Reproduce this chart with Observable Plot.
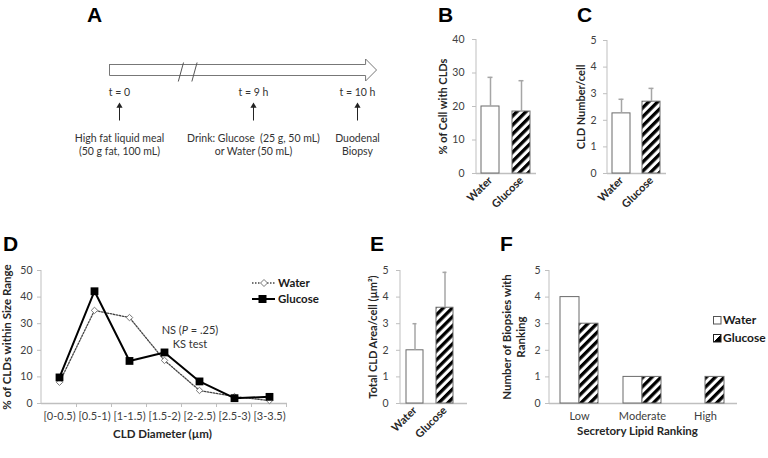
<!DOCTYPE html>
<html><head><meta charset="utf-8">
<script src="https://cdn.jsdelivr.net/npm/d3@7"></script>
<script src="https://cdn.jsdelivr.net/npm/@observablehq/plot@0.6"></script>
<style>
body{margin:0;background:#fff;}
#fig{position:relative;width:768px;height:458px;overflow:hidden;background:#fff;font-family:Lato,"Open Sans",sans-serif;color:#262626;}
.letter{font-family:"Liberation Sans",Arial,sans-serif;font-weight:bold;font-size:21px;line-height:1;color:#000;}
.leg{font-weight:bold;color:#1a1a1a;white-space:nowrap;}
</style></head><body>
<svg width="0" height="0" style="position:absolute">
 <defs>
  <pattern id="hatch" patternUnits="userSpaceOnUse" width="6.4" height="6.4" patternTransform="rotate(45)">
   <rect width="6.4" height="6.4" fill="#fff"/><rect width="3.3" height="6.4" fill="#000"/>
  </pattern>
  <linearGradient id="halfblack" x1="0" y1="0" x2="1" y2="1"><stop offset="0.5" stop-color="#fff"/><stop offset="0.5" stop-color="#000"/></linearGradient>
 </defs>
</svg>
<div id="fig"></div>
<script>
// ---------- data ----------
const groups = ["Water", "Glucose"];
const cellPct = [20, 18.5];
const cellPctErr = [8.7, 9.2];
const cldNumber = [2.26, 2.7];
const cldNumberErr = [0.53, 0.5];
const cldArea = [2.0, 3.6];
const cldAreaErr = [1.0, 1.33];
const diameterBins = ["[0-0.5)", "[0.5-1)", "[1-1.5)", "[1.5-2)", "[2-2.5)", "[2.5-3)", "[3-3.5)"];
const waterDist = [8, 35, 32.3, 16.2, 4.9, 2.6, 1.1];
const glucoseDist = [9.8, 42.2, 16, 19.2, 8.3, 2, 2.5];
const rankings = ["Low", "Moderate", "High"];
const waterRank = [4, 1, 0];
const glucoseRank = [3, 1, 1];
const pctTicks = [0, 10, 20, 30, 40];
const fiveTicks = [0, 1, 2, 3, 4, 5];
const distTicks = [0, 10, 20, 30, 40, 50];
// timeline (panel A)
const eventLabels = ["t = 0", "t = 9 h", "t = 10 h"];
const eventPos = [0, 5.63, 10];
const eventNotes = ["High fat liquid meal\n(50 g fat, 100 mL)", "Drink: Glucose  (25 g, 50 mL)\nor Water (50 mL)", "Duodenal\nBiopsy"];
const timelineStart = -0.42, timelineHeadBase = 10.34, timelineTip = 10.8;
const timelineBreaks = [2.58, 3.15];

// ---------- helpers ----------
const SVGNS = "http://www.w3.org/2000/svg";
const axisGray = "#bfbfbf", errGray = "#a6a6a6", tickText = "#404040", barStroke = "#6b6b6b";
const baseStyle = {fontFamily: "Lato, 'Open Sans', sans-serif", fontSize: "10.5px", color: tickText, background: "transparent", overflow: "visible"};
const fmt = d => String(d);
const fig = document.getElementById("fig");
function place(el, left, top) { el.style.position = "absolute"; el.style.left = left + "px"; el.style.top = top + "px"; fig.appendChild(el); return el; }
function html(str, left, top, cls = "", css = "") { const d = document.createElement("div"); d.innerHTML = str; d.className = cls; d.style.cssText = css; return place(d, left, top); }
function dimsOf(args) { return args.find(a => a && typeof a === "object" && !Array.isArray(a) && "marginLeft" in a && "height" in a); }
function scalesOf(args) { return args.length >= 4 ? args[1] : args[0]; }
function svgLine(x1, y1, x2, y2, stroke, w = 1) {
  const l = document.createElementNS(SVGNS, "line");
  l.setAttribute("x1", x1); l.setAttribute("y1", y1); l.setAttribute("x2", x2); l.setAttribute("y2", y2);
  l.setAttribute("stroke", stroke); l.setAttribute("stroke-width", w);
  return l;
}
function yAxisLine(stroke = axisGray) {
  return (...args) => { const d = dimsOf(args); return svgLine(d.marginLeft, d.marginTop, d.marginLeft, d.height - d.marginBottom, stroke); };
}
function boundaryTicks(cats, size = 4) {
  return (...args) => {
    const s = scalesOf(args), d = dimsOf(args);
    const xs = cats.map(c => s.x(c));
    const step = xs[1] - xs[0];
    const yb = d.height - d.marginBottom;
    const g = document.createElementNS(SVGNS, "g");
    xs.forEach(x => g.appendChild(svgLine(x + step / 2, yb, x + step / 2, yb + size, axisGray)));
    return g;
  };
}
function yTitle(title, dx, extra = {}) {
  return Plot.text([title], {text: d => d, frameAnchor: "left", textAnchor: "middle", lineAnchor: "middle", rotate: -90, dx, fontWeight: "bold", fontSize: 11, fill: "#262626", ...extra});
}

// ---------- panel letters ----------
html("A", 87, 4, "letter"); html("B", 438, 4, "letter"); html("C", 577, 4, "letter");
html("D", 3, 233, "letter"); html("E", 370, 233, "letter"); html("F", 500, 233, "letter");

// ---------- panel A: timeline ----------
{
  const cy = 69.5, bodyHalf = 5.5, headHalf = 11;
  const outline = [
    [timelineStart, cy - bodyHalf], [timelineHeadBase, cy - bodyHalf], [timelineHeadBase, cy - headHalf],
    [timelineTip, cy], [timelineHeadBase, cy + headHalf], [timelineHeadBase, cy + bodyHalf],
    [timelineStart, cy + bodyHalf], [timelineStart, cy - bodyHalf]
  ];
  const events = eventLabels.map((label, i) => ({label, pos: eventPos[i], note: eventNotes[i]}));
  const p = Plot.plot({
    width: 400, height: 170, margin: 0, style: {...baseStyle, fontSize: "10.5px", color: "#333"},
    x: {domain: [0, 10], range: [119, 357], axis: null},
    y: {domain: [0, 170], range: [0, 170], axis: null},
    marks: [
      Plot.line(outline, {x: d => d[0], y: d => d[1], stroke: "#777", strokeWidth: 1}),
      Plot.link(timelineBreaks, {x1: d => d - 0.11, x2: d => d + 0.11, y1: 81, y2: 62, stroke: "#555", strokeWidth: 1}),
      Plot.text(events, {x: "pos", y: 92, text: "label", fill: "#333"}),
      Plot.link(events, {x1: "pos", x2: "pos", y1: 120, y2: 106, stroke: "#222", strokeWidth: 1}),
      Plot.dot(events, {x: "pos", y: 105.5, symbol: "triangle", r: 2.3, fill: "#222"}),
      Plot.text(events, {x: "pos", y: 143.5, text: "note", lineHeight: 1.24, fill: "#333"})
    ]
  });
  place(p, 0, 0);
}

// ---------- bar panels B, C, E ----------
function barPanel({values, errs, yMax, yTicks, title, titleDx, width, height, mL, mT, mR, mB, xRange, pi, tickPad}) {
  const data = groups.map((g, i) => ({group: g, value: values[i], top: values[i] + errs[i]}));
  return Plot.plot({
    width, height, marginLeft: mL, marginTop: mT, marginRight: mR, marginBottom: mB,
    style: baseStyle,
    x: {type: "band", domain: groups, range: xRange, paddingInner: pi, paddingOuter: 0, axis: null},
    y: {domain: [0, yMax], axis: null},
    marks: [
      Plot.ruleY([0], {stroke: axisGray, strokeWidth: 1.5}),
      yAxisLine(),
      Plot.axisY({ticks: yTicks, tickFormat: fmt, tickSize: 4, tickPadding: tickPad, stroke: axisGray, fill: tickText, label: null, fontSize: 10.5}),
      Plot.axisX({tickRotate: -45, tickSize: 0, tickPadding: 5, fontWeight: "bold", fill: "#262626", label: null, fontSize: 11}),
      Plot.barY(data, {filter: d => d.group === "Water", x: "group", y: "value", fill: "white", stroke: barStroke, strokeWidth: 1}),
      Plot.barY(data, {filter: d => d.group === "Glucose", x: "group", y: "value", fill: "url(#hatch)", stroke: barStroke, strokeWidth: 1}),
      Plot.ruleX(data, {x: "group", y1: "value", y2: "top", stroke: errGray, strokeWidth: 1.5}),
      Plot.tickY(data, {x: "group", y: "top", stroke: errGray, strokeWidth: 1.5, insetLeft: 6.5, insetRight: 6.5}),
      yTitle(title, titleDx)
    ]
  });
}
place(barPanel({values: cellPct, errs: cellPctErr, yMax: 40, yTicks: pctTicks, title: "% of Cell with CLDs", titleDx: -33,
  width: 150, height: 215, mL: 76, mT: 39, mR: 14, mB: 42, xRange: [81, 130], pi: 0.42, tickPad: 8}), 400, 0);
place(barPanel({values: cldNumber, errs: cldNumberErr, yMax: 5, yTicks: fiveTicks, title: "CLD Number/cell", titleDx: -26,
  width: 140, height: 215, mL: 67, mT: 40, mR: 14, mB: 42, xRange: [71, 121], pi: 0.387, tickPad: 7}), 540, 0);
place(barPanel({values: cldArea, errs: cldAreaErr, yMax: 5, yTicks: fiveTicks, title: "Total CLD Area/cell (µm²)", titleDx: -27,
  width: 115, height: 220, mL: 35, mT: 40, mR: 13, mB: 47, xRange: [41, 88.5], pi: 0.417, tickPad: 8}), 365, 230);

// ---------- panel D: size distribution ----------
{
  const dist = diameterBins.map((bin, i) => ({bin, water: waterDist[i], glucose: glucoseDist[i]}));
  const p = Plot.plot({
    width: 330, height: 220, marginLeft: 41, marginTop: 40, marginRight: 43, marginBottom: 47,
    style: baseStyle,
    x: {type: "point", domain: diameterBins, padding: 0.5, axis: null},
    y: {domain: [0, 50], axis: null},
    marks: [
      Plot.ruleY([0], {stroke: axisGray, strokeWidth: 1.5}),
      yAxisLine(),
      boundaryTicks(diameterBins),
      Plot.axisY({ticks: distTicks, tickFormat: fmt, tickSize: 4, tickPadding: 5, stroke: axisGray, fill: tickText, label: null, fontSize: 10.5}),
      Plot.axisX({tickSize: 0, tickPadding: 9, fill: tickText, label: null, fontSize: 11}),
      Plot.line(dist, {x: "bin", y: "water", stroke: "#444", strokeWidth: 1.3, strokeDasharray: "1.5,1.5"}),
      Plot.dot(dist, {x: "bin", y: "water", symbol: "diamond2", r: 2.9, stroke: "#777", fill: "white", strokeWidth: 1}),
      Plot.line(dist, {x: "bin", y: "glucose", stroke: "#000", strokeWidth: 2}),
      Plot.dot(dist, {x: "bin", y: "glucose", symbol: "square", r: 4.4, fill: "#000"}),
      yTitle("% of CLDs within Size Range", -34, {fontSize: 11.5}),
      Plot.text(["CLD Diameter (µm)"], {text: d => d, frameAnchor: "bottom", textAnchor: "middle", dy: 34, dx: -2, fontWeight: "bold", fontSize: 11.5, fill: "#262626"})
    ]
  });
  place(p, 0, 230);
  html(`<svg width="24" height="14" style="display:block"><line x1="0" y1="7" x2="23" y2="7" stroke="#444" stroke-width="1.3" stroke-dasharray="1.5,1.5"/><path d="M12,3.5L15.5,7L12,10.5L8.5,7Z" fill="#fff" stroke="#777"/></svg>`, 252, 276);
  html("Water", 278, 276, "leg", "font-size:11.5px;line-height:14px;");
  html(`<svg width="24" height="14" style="display:block"><line x1="0" y1="7" x2="23" y2="7" stroke="#000" stroke-width="2"/><rect x="6.5" y="3" width="8" height="8" fill="#000"/></svg>`, 252, 292);
  html("Glucose", 278, 292, "leg", "font-size:11.5px;line-height:14px;");
  html(`NS (<i>P</i> = .25)<br>KS test`, 140, 323, "", "width:100px;text-align:center;font-size:11px;line-height:13.5px;color:#333;");
}

// ---------- panel F: secretory lipid ranking ----------
{
  const rank = rankings.map((r, i) => ({r, water: waterRank[i], glucose: glucoseRank[i]}));
  const p = Plot.plot({
    width: 288, height: 220, marginLeft: 69, marginTop: 40, marginRight: 31, marginBottom: 47,
    style: baseStyle,
    x: {type: "band", domain: rankings, range: [80, 244], paddingInner: 0.397, paddingOuter: 0, axis: null},
    y: {domain: [0, 5], axis: null},
    marks: [
      Plot.ruleY([0], {stroke: axisGray, strokeWidth: 1.5}),
      yAxisLine(),
      Plot.axisY({ticks: fiveTicks, tickFormat: fmt, tickSize: 4, tickPadding: 5, stroke: axisGray, fill: tickText, label: null, fontSize: 10.5}),
      Plot.axisX({tickSize: 0, tickPadding: 9, fill: tickText, label: null, fontSize: 11}),
      Plot.barY(rank, {filter: d => d.water > 0, x: "r", y: "water", insetRight: 19, fill: "white", stroke: barStroke, strokeWidth: 1}),
      Plot.barY(rank, {filter: d => d.glucose > 0, x: "r", y: "glucose", insetLeft: 19, fill: "url(#hatch)", stroke: barStroke, strokeWidth: 1}),
      yTitle("Number of Biopsies with\nRanking", -36, {lineHeight: 1.2, fontSize: 11.5}),
      Plot.text(["Secretory Lipid Ranking"], {text: d => d, frameAnchor: "bottom", textAnchor: "middle", dy: 31, dx: -6, fontWeight: "bold", fontSize: 11.5, fill: "#262626"})
    ]
  });
  place(p, 480, 230);
  html(`<svg width="9" height="9" style="display:block"><rect x="0.5" y="0.5" width="7.5" height="7.5" fill="#fff" stroke="#555"/></svg>`, 713, 316);
  html("Water", 723, 312, "leg", "font-size:12px;line-height:16px;");
  html(`<svg width="9" height="9" style="display:block"><rect x="0.5" y="0.5" width="7.5" height="7.5" fill="url(#halfblack)" stroke="#222"/></svg>`, 713, 334);
  html("Glucose", 723, 330, "leg", "font-size:12px;line-height:16px;");
}
</script>
</body></html>
